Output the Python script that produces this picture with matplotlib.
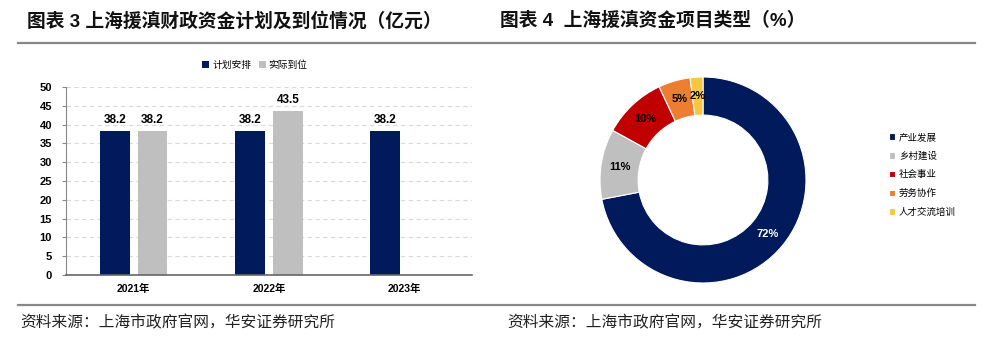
import numpy as np
import matplotlib.pyplot as plt
from matplotlib.lines import Line2D

plt.rcParams['font.family'] = ['Liberation Sans', 'Noto Sans CJK SC', 'DejaVu Sans']

# ---- data ----
years = ['2021年', '2022年', '2023年']
planned = [38.2, 38.2, 38.2]
actual = [38.2, 43.5, None]
series_names = ['计划安排', '实际到位']

pie_labels = ['产业发展', '乡村建设', '社会事业', '劳务协作', '人才交流培训']
pie_values = [72, 11, 10, 5, 2]

navy = '#001A5C'
gray = '#BFBFBF'
pie_colors = [navy, gray, '#C00000', '#ED7D31', '#F9C642']

W, H = 987, 352
fig = plt.figure(figsize=(W / 100, H / 100), dpi=100)


def box(x0, y0, x1, y1):
    # pixel box (top-left origin) -> figure fraction rect
    return [x0 / W, 1 - y1 / H, (x1 - x0) / W, (y1 - y0) / H]


# ---- titles, rules, sources ----
fig.text(27 / W, 1 - 21 / H, '图表 3 上海援滇财政资金计划及到位情况（亿元）',
         fontsize=13.5, fontweight='bold', va='center', ha='left', color='#111111')
fig.text(500 / W, 1 - 21 / H, '图表 4  上海援滇资金项目类型（%）',
         fontsize=13.5, fontweight='bold', va='center', ha='left', color='#111111')
fig.add_artist(Line2D([18 / W, 975 / W], [1 - 43 / H] * 2, color='#888888', lw=1.6))
fig.add_artist(Line2D([18 / W, 975 / W], [1 - 305 / H] * 2, color='#888888', lw=1.6))
fig.text(20 / W, 1 - 323 / H, '资料来源：上海市政府官网，华安证券研究所',
         fontsize=11.3, va='center', ha='left', color='#222222')
fig.text(507 / W, 1 - 323 / H, '资料来源：上海市政府官网，华安证券研究所',
         fontsize=11.3, va='center', ha='left', color='#222222')

# ---- bar chart ----
ax = fig.add_axes(box(66, 87, 472, 275))
x = np.arange(len(years))
off, bw = 0.14, 0.22
ax.bar(x - off, planned, bw, color=navy, label=series_names[0])
xa = [i for i, v in enumerate(actual) if v is not None]
va = [v for v in actual if v is not None]
ax.bar(np.array(xa) + off, va, bw, color=gray, label=series_names[1])
for xi, v in zip(x - off, planned):
    ax.text(xi, v + 1.5, f'{v:.1f}', ha='center', va='bottom', fontsize=8.5, fontweight='bold')
for xi, v in zip(np.array(xa) + off, va):
    ax.text(xi, v + 1.5, f'{v:.1f}', ha='center', va='bottom', fontsize=8.5, fontweight='bold')

ax.set_xlim(-0.5, 2.5)
ax.set_ylim(0, 50)
ax.set_yticks(np.arange(0, 51, 5))
ax.set_xticks(x)
ax.set_xticklabels(years, fontsize=7.5, fontweight='bold')
for t in ax.get_yticklabels():
    t.set_fontweight('bold')
    t.set_fontsize(8)
ax.yaxis.grid(True, color='#D9D9D9', linestyle=(0, (4, 3)), lw=0.8)
ax.set_axisbelow(True)
for s in ['top', 'right']:
    ax.spines[s].set_visible(False)
ax.spines['left'].set_color('#888888')
ax.spines['bottom'].set_color('#666666')
ax.spines['bottom'].set_linewidth(1.2)
ax.tick_params(axis='y', length=3, color='#888888', pad=7)
ax.tick_params(axis='x', length=0, pad=6)
ax.legend(loc='center', bbox_to_anchor=(255 / W, 1 - 65 / H), bbox_transform=fig.transFigure,
          ncol=2, frameon=False, fontsize=7, handlelength=0.7, handleheight=0.7,
          handletextpad=0.3, columnspacing=0.8)

# ---- donut ----
ax2 = fig.add_axes(box(600, 77, 806, 283))
wedges, _, autotexts = ax2.pie(pie_values, colors=pie_colors, startangle=90, counterclock=False,
                               radius=1, autopct='%d%%', pctdistance=0.815,
                               wedgeprops=dict(width=0.37, edgecolor='white', linewidth=0.8),
                               textprops=dict(fontsize=8, fontweight='bold'))
autotexts[0].set_color('white')
ax2.set_xlim(-1, 1)
ax2.set_ylim(-1, 1)
ax2.set_aspect('equal')
ax2.legend(wedges, pie_labels, loc='center left', bbox_to_anchor=(880 / W, 1 - 175 / H),
           bbox_transform=fig.transFigure, frameon=False, fontsize=6.8,
           handlelength=0.7, handleheight=0.7, handletextpad=0.4, labelspacing=1.0)

fig.savefig('out.png', dpi=100)
